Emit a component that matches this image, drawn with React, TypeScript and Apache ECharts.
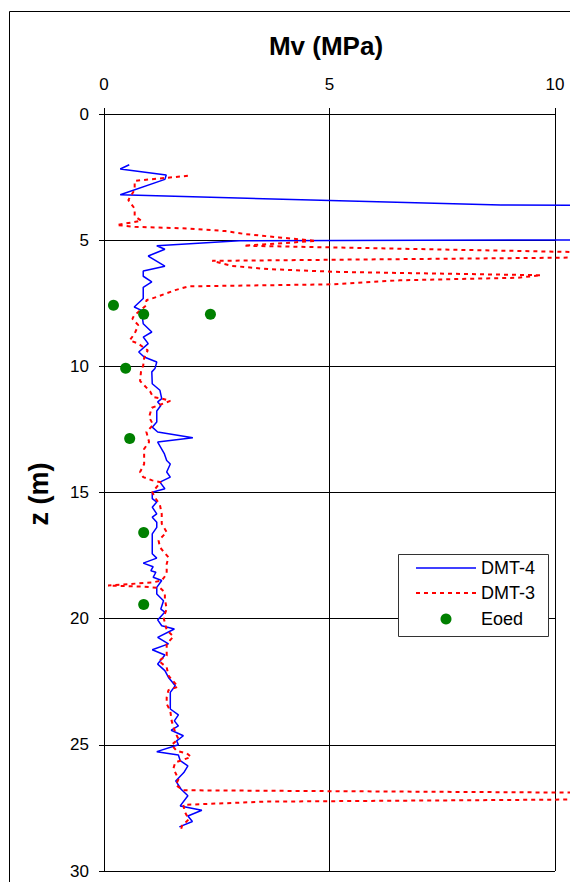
import React, { useEffect, useRef } from "react";
import * as echarts from "echarts";

// DMT-4 (blue solid)
const dmt4Mv = [
  0.56, 0.36, 1.38, 1.35, 0.36, 8.8, 14, 14, 3.0, 1.17, 1.35, 0.98, 1.35, 0.87, 0.87, 1.06, 0.87, 0.87,
  0.67, 0.83, 0.87, 1.06, 0.87, 0.98, 0.77, 0.89, 1.17, 1.13, 1.06, 1.07, 1.24, 1.28, 1.19, 1.26, 1.17,
  1.17, 1.07, 1.19, 1.97, 1.19, 1.34, 1.39, 1.47, 1.39, 1.47, 1.24, 1.35, 1.07, 1.07, 1.17, 1.07, 1.17,
  1.07, 1.17, 1.17, 1.07, 1.07, 1.17, 0.87, 1.09, 1.04, 1.15, 1.09, 1.28, 1.17, 1.17, 1.32, 1.26, 1.35,
  1.19, 1.28, 1.56, 1.19, 1.43, 1.07, 1.35, 1.19, 1.35, 1.43, 1.58, 1.47, 1.47, 1.65, 1.56, 1.65, 1.49,
  1.76, 1.61, 1.65, 1.17, 1.65, 1.69, 1.86, 1.77, 1.59, 1.71, 1.86, 1.69, 2.17, 1.86, 1.96, 1.67,
];
const dmt4Z = [
  2.01, 2.18, 2.42, 2.59, 3.2, 3.61, 3.63, 4.98, 5.02, 5.22, 5.36, 5.63, 6.03, 6.22, 6.43, 6.65, 6.87, 7.31,
  7.65, 7.78, 8.31, 8.64, 8.84, 9.1, 9.43, 9.63, 9.83, 10.09, 10.22, 10.69, 10.95, 11.28, 11.41, 11.55, 11.77,
  12.21, 12.41, 12.6, 12.83, 13.0, 13.47, 13.73, 13.87, 14.19, 14.39, 14.59, 14.85, 14.99, 15.24, 15.38, 15.58, 15.85,
  15.98, 16.18, 16.38, 16.64, 17.43, 17.6, 17.8, 17.94, 18.1, 18.16, 18.36, 18.49, 18.76, 19.02, 19.29, 19.62, 19.74,
  20.05, 20.28, 20.41, 20.74, 21.0, 21.23, 21.44, 21.8, 22.06, 22.33, 22.66, 22.92, 23.58, 23.81, 24.05, 24.25, 24.42,
  24.64, 24.84, 25.0, 25.27, 25.4, 25.63, 25.83, 26.1, 26.43, 26.76, 27.02, 27.42, 27.59, 27.82, 28.04, 28.25,
];

// DMT-3 (red dashed)
const dmt3Mv = [
  1.86, 1.02, 0.68, 0.68, 0.54, 0.68, 0.68, 0.83, 0.28, 0.68, 1.88, 2.69, 3.14, 3.88, 4.7, 3.1, 11, 11,
  2.4, 2.84, 3.66, 5.22, 9.69, 9.17, 6.56, 5.07, 1.88, 1.58, 1.17, 0.94, 0.94, 0.67, 0.63, 0.76, 0.68,
  0.57, 0.76, 0.97, 0.89, 0.87, 0.82, 0.8, 1.02, 1.09, 1.28, 1.47, 1.06, 1.0, 1.09, 0.94, 1.0, 0.89,
  0.89, 0.8, 0.87, 1.07, 1.26, 1.07, 1.15, 1.24, 1.28, 1.28, 1.39, 1.21, 1.24, 1.43, 1.39, 1.39, 1.28,
  1.09, 0.09, 0.83, 1.24, 1.35, 1.35, 1.39, 1.32, 1.39, 1.54, 1.39, 1.39, 1.21, 1.39, 1.43, 1.64, 1.43,
  1.39, 1.39, 1.47, 1.5, 1.58, 1.65, 1.5, 1.61, 1.84, 1.93, 1.58, 1.54, 1.65, 1.59, 1.76, 11, 11, 3.59,
  1.76, 1.79, 1.88, 1.73, 1.69,
];
const dmt3Z = [
  2.45, 2.59, 2.65, 3.0, 3.41, 3.75, 4.05, 4.23, 4.4, 4.47, 4.54, 4.64, 4.76, 4.89, 5.03, 5.22, 5.49, 5.68,
  5.82, 6.02, 6.15, 6.26, 6.39, 6.49, 6.59, 6.75, 6.83, 6.98, 7.25, 7.38, 7.58, 7.98, 8.11, 8.37, 8.7,
  8.97, 9.1, 9.37, 9.67, 9.96, 10.22, 10.58, 10.99, 11.22, 11.28, 11.37, 11.64, 12.01, 12.32, 12.6, 13.0, 13.27,
  13.87, 14.19, 14.39, 14.52, 14.59, 14.99, 15.25, 15.49, 15.85, 16.24, 16.57, 16.9, 17.17, 17.57, 17.83, 18.23, 18.49,
  18.56, 18.69, 18.73, 18.78, 18.96, 19.22, 19.62, 19.95, 20.45, 20.71, 21.0, 21.47, 21.67, 21.93, 22.26, 22.7, 22.83,
  23.12, 23.38, 23.65, 24.05, 24.51, 24.77, 25.0, 25.24, 25.34, 25.48, 25.7, 25.93, 26.37, 26.59, 26.8, 26.9, 27.16, 27.25,
  27.38, 27.65, 27.95, 28.21, 28.48,
];

// Eoed (green points)
const eoedMv = [0.21, 0.88, 2.36, 0.48, 0.57, 0.88, 0.88];
const eoedZ = [7.58, 7.94, 7.94, 10.08, 12.86, 16.59, 19.44];

const xTicks = { min: 0, max: 10, interval: 5 };
const yTicks = { min: 0, max: 30, interval: 5 };

const titleText = "Mv (MPa)";
const yName = "z (m)";
const legendNames = ["DMT-4", "DMT-3", "Eoed"];

const FONT = "'Liberation Sans', Arial, sans-serif";

function zip(a: number[], b: number[]) {
  return a.map((v, i) => [v, b[i]]);
}

export default function App() {
  const ref = useRef<HTMLDivElement>(null);

  useEffect(() => {
    const chart = echarts.init(ref.current!, null, { renderer: "svg" });
    const plotLeft = 104;
    const plotW = 451;
    // overflow area up to the page edge, so lines can run past the plot edge like the original
    const extW = 570 - plotLeft;
    const extMax = (xTicks.max * extW) / plotW;
    chart.setOption({
      animation: false,
      backgroundColor: "#ffffff",
      grid: [
        { left: plotLeft, top: 114, width: plotW, height: 757, containLabel: false },
        { left: plotLeft, top: 114, width: extW, height: 757, containLabel: false },
      ],
      xAxis: [
        {
          type: "value",
          gridIndex: 0,
          position: "top",
          min: xTicks.min,
          max: xTicks.max,
          interval: xTicks.interval,
          axisLine: { show: true, onZero: false, lineStyle: { color: "#000", width: 1 } },
          axisTick: { show: true, length: 6, lineStyle: { color: "#000", width: 1 } },
          axisLabel: { color: "#000", fontSize: 17, fontFamily: FONT, margin: 21 },
          splitLine: { show: true, lineStyle: { color: "#000", width: 1 } },
        },
        {
          type: "value",
          gridIndex: 1,
          min: xTicks.min,
          max: extMax,
          show: false,
        },
      ],
      yAxis: [
        {
          type: "value",
          gridIndex: 0,
          inverse: true,
          min: yTicks.min,
          max: yTicks.max,
          interval: yTicks.interval,
          axisLine: { show: true, onZero: false, lineStyle: { color: "#000", width: 1 } },
          axisTick: { show: true, length: 5, lineStyle: { color: "#000", width: 1 } },
          axisLabel: { color: "#000", fontSize: 17, fontFamily: FONT, margin: 15 },
          splitLine: { show: true, lineStyle: { color: "#000", width: 1 } },
        },
        {
          type: "value",
          gridIndex: 1,
          inverse: true,
          min: yTicks.min,
          max: yTicks.max,
          show: false,
        },
      ],
      series: [
        {
          name: legendNames[0],
          type: "line",
          xAxisIndex: 1,
          yAxisIndex: 1,
          data: zip(dmt4Mv, dmt4Z),
          symbol: "none",
          lineStyle: { color: "#0000ff", width: 1.5 },
          z: 3,
        },
        {
          name: legendNames[1],
          type: "line",
          xAxisIndex: 1,
          yAxisIndex: 1,
          data: zip(dmt3Mv, dmt3Z),
          symbol: "none",
          lineStyle: { color: "#ff0000", width: 2, type: [4, 4] },
          z: 4,
        },
        {
          name: legendNames[2],
          type: "scatter",
          xAxisIndex: 0,
          yAxisIndex: 0,
          data: zip(eoedMv, eoedZ),
          symbol: "circle",
          symbolSize: 11,
          itemStyle: { color: "#008000", opacity: 1 },
          z: 5,
        },
      ],
      graphic: [
        {
          type: "rect",
          silent: true,
          shape: { x: 9.5, y: 11.5, width: 700, height: 1000 },
          style: { fill: "none", stroke: "#000", lineWidth: 1 },
        },
        {
          type: "text",
          silent: true,
          x: 326,
          y: 46,
          style: {
            text: titleText,
            fill: "#000",
            font: `bold 26px ${FONT}`,
            align: "center",
            verticalAlign: "middle",
          },
        },
        {
          type: "text",
          silent: true,
          x: 39,
          y: 494,
          rotation: Math.PI / 2,
          style: {
            text: yName,
            fill: "#000",
            font: `bold 27px ${FONT}`,
            align: "center",
            verticalAlign: "middle",
          },
        },
        {
          type: "group",
          z: 100,
          silent: true,
          children: [
            {
              type: "rect",
              z: 100,
              shape: { x: 398.5, y: 554.5, width: 150, height: 82 },
              style: { fill: "#fff", stroke: "#333", lineWidth: 1 },
            },
            {
              type: "line",
              z: 101,
              shape: { x1: 416, y1: 568, x2: 476, y2: 568 },
              style: { stroke: "#0000ff", lineWidth: 1.5 },
            },
            {
              type: "line",
              z: 101,
              shape: { x1: 416, y1: 593, x2: 476, y2: 593 },
              style: { stroke: "#ff0000", lineWidth: 2, lineDash: [4, 4] },
            },
            {
              type: "circle",
              z: 101,
              shape: { cx: 446, cy: 619, r: 5.5 },
              style: { fill: "#008000" },
            },
            ...legendNames.map((n, i) => ({
              type: "text",
              z: 101,
              x: 481,
              y: [568, 593, 619][i],
              style: {
                text: n,
                fill: "#000",
                font: `18px ${FONT}`,
                align: "left",
                verticalAlign: "middle",
              },
            })),
          ],
        },
      ],
    });
    return () => chart.dispose();
  }, []);

  return (
    <div
      ref={ref}
      style={{ position: "absolute", left: 0, top: 0, width: 570, height: 882, background: "#fff" }}
    />
  );
}
